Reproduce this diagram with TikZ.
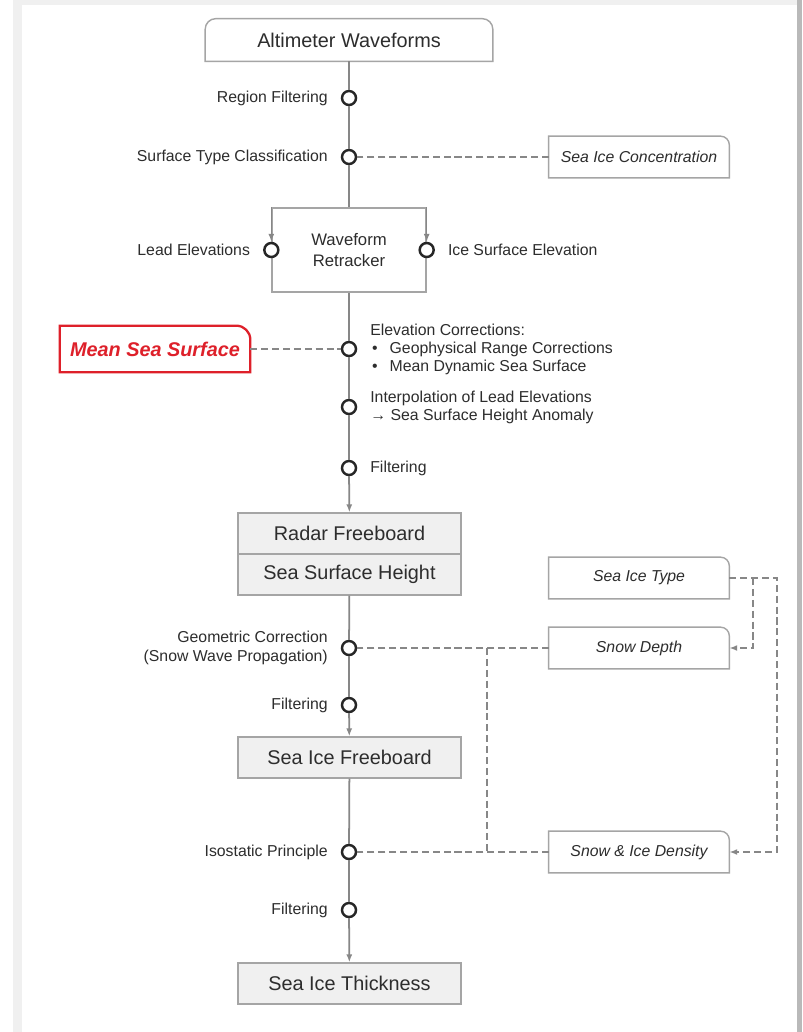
\documentclass[tikz,border=0pt]{standalone}
\usepackage{fontspec}
\setmainfont{Liberation Sans}
\usetikzlibrary{positioning,arrows.meta}

\definecolor{msfred}{RGB}{222,32,42}
\definecolor{txtgray}{RGB}{45,45,45}
\definecolor{linegray}{RGB}{135,135,135}
\definecolor{boxgray}{RGB}{165,165,165}
\definecolor{fillgray}{RGB}{240,240,240}

% outline with the top right corner rounded
\newcommand{\tabshape}[3][]{%
  \draw[#1] (#2.south west) -- (#2.north west) -- ([xshift=-#3]#2.north east)
    arc[start angle=90, end angle=0, radius=#3] -- (#2.south east) -- cycle;}
% outline with both top corners rounded
\newcommand{\roundtop}[3][]{%
  \draw[#1] (#2.south west) -- ([yshift=-#3]#2.north west)
    arc[start angle=180, end angle=90, radius=#3] -- ([xshift=-#3]#2.north east)
    arc[start angle=90, end angle=0, radius=#3] -- (#2.south east) -- cycle;}

\begin{document}
\begin{tikzpicture}[x=0.02cm, y=0.02cm,
    font=\fontsize{9}{10.2}\selectfont, text=txtgray,
    stepnode/.style={circle, draw=black!85, line width=1.4pt, fill=white,
      minimum size=0.28cm, inner sep=0pt},
    lbl/.style={inner sep=1pt},
    flow/.style={linegray, line width=1pt},
    feedline/.style={linegray, line width=1.15pt, dash pattern=on 4pt off 2.2pt},
    arrowflow/.style={-{Latex[length=4.5pt, width=3.4pt]}},
    stagebox/.style={draw=boxgray, line width=0.8pt, fill=fillgray,
      minimum width=4.46cm, minimum height=0.82cm,
      font=\fontsize{11.3}{13}\selectfont},
    inputbox/.style={minimum width=3.6cm, minimum height=0.82cm,
      font=\fontsize{9}{11}\selectfont\itshape},
    boxline/.style={draw=boxgray, line width=0.8pt}]

    % Page and its shadow
    \useasboundingbox (0,0) rectangle (802,-1032);
    \fill[white] (0,0) rectangle (802,-1032);
    \fill[gray!12] (13,0) rectangle (22,-1032);
    \fill[gray!12] (13,0) rectangle (802,-5);
    \fill[gray!55] (797,0) rectangle (802,-1032);

    % Input
    \node[minimum width=5.74cm, minimum height=0.84cm,
      font=\fontsize{11.3}{13}\selectfont] (alt) at (349,-40) {Altimeter Waveforms};
    \roundtop[boxline]{alt}{6pt}

    % Steps down to the retracker
    \node[stepnode] (regf) at (349,-98) {};
    \node[lbl, left=0.22cm of regf] (regflbl) {Region Filtering};
    \node[stepnode] (stc) at (349,-157) {};
    \node[lbl, left=0.22cm of stc] (stclbl) {Surface Type Classification};
    \node[inputbox] (conc) at (639,-157) {Sea Ice Concentration};
    \tabshape[boxline]{conc}{5pt}

    % Waveform retracker
    \node[boxline, fill=white, minimum width=3.08cm, minimum height=1.68cm,
      align=center, font=\fontsize{9.5}{12}\selectfont] (ret) at (349,-250)
      {Waveform\\Retracker};
    \node[stepnode] (lead) at (ret.west) {};
    \node[lbl, left=0.22cm of lead] (leadlbl) {Lead Elevations};
    \node[stepnode] (ice) at (ret.east) {};
    \node[lbl, right=0.22cm of ice] (icelbl) {Ice Surface Elevation};
    \draw[linegray, line width=0.8pt, arrowflow] (ret.north west) -- (lead);
    \draw[linegray, line width=0.8pt, arrowflow] (ret.north east) -- (ice);

    % Corrections
    \node[stepnode] (elev) at (349,-349) {};
    \node[lbl, right=0.22cm of elev, align=left] (elevlbl) {Elevation Corrections:\\
      \hspace{1pt}\makebox[10pt][l]{\textbullet}Geophysical Range Corrections\\
      \hspace{1pt}\makebox[10pt][l]{\textbullet}Mean Dynamic Sea Surface};
    \node[inputbox, minimum width=3.8cm, minimum height=0.92cm, text=msfred,
      font=\fontsize{11.3}{13}\selectfont\bfseries\itshape] (msf) at (155,-349)
      {Mean Sea Surface};
    \tabshape[msfred, line width=1.3pt]{msf}{8pt}
    \node[stepnode] (interp) at (349,-407) {};
    \node[lbl, right=0.22cm of interp, align=left] (interplbl)
      {Interpolation of Lead Elevations\\→ Sea Surface Height Anomaly};
    \node[stepnode] (filta) at (349,-468) {};
    \node[lbl, right=0.22cm of filta] (filtalbl) {Filtering};

    % Radar freeboard
    \node[stagebox] (rfb) at (349.5,-533.5) {Radar Freeboard};
    \node[stagebox] (ssh) at (349.5,-574.5) {Sea Surface Height};

    % Auxiliary data
    \node[inputbox] (typ) at (639,-578) {Sea Ice Type};
    \tabshape[boxline]{typ}{5pt}
    \node[inputbox] (snowd) at (639,-648) {Snow Depth};
    \tabshape[boxline]{snowd}{5pt}
    \node[inputbox] (dens) at (639,-852) {Snow \& Ice Density};
    \tabshape[boxline]{dens}{5pt}

    % Freeboard and thickness
    \node[stepnode] (geo) at (349,-648) {};
    \node[lbl, left=0.22cm of geo, align=right,
      font=\fontsize{9}{10.8}\selectfont] (geolbl)
      {Geometric Correction\\(Snow Wave Propagation)};
    \node[stepnode] (filtb) at (349,-705) {};
    \node[lbl, left=0.22cm of filtb] (filtblbl) {Filtering};
    \node[stagebox] (sif) at (349.5,-757.5) {Sea Ice Freeboard};
    \node[stepnode] (iso) at (349,-852) {};
    \node[lbl, left=0.22cm of iso] (isolbl) {Isostatic Principle};
    \node[stepnode] (filtc) at (349,-910) {};
    \node[lbl, left=0.22cm of filtc] (filtclbl) {Filtering};
    \node[stagebox] (thk) at (349.5,-983.5) {Sea Ice Thickness};

    % Main flow
    \draw[flow] (alt) -- (regf);
    \draw[flow] (regf) -- (stc);
    \draw[flow] (stc) -- (ret);
    \draw[flow] (ret) -- (elev);
    \draw[flow] (elev) -- (interp);
    \draw[flow] (interp) -- (filta);
    \draw[flow, arrowflow] (filta) -- (rfb);
    \draw[flow] (ssh) -- (geo);
    \draw[flow] (geo) -- (filtb);
    \draw[flow, arrowflow] (filtb) -- (sif);
    \draw[flow] (sif) -- (iso);
    \draw[flow] (iso) -- (filtc);
    \draw[flow, arrowflow] (filtc) -- (thk);

    % Auxiliary links
    \draw[feedline] (conc) -- (stc);
    \draw[feedline] (msf) -- (elev);
    \draw[feedline] (snowd) -- (geo);
    \draw[feedline] (dens) -- (iso);
    \coordinate (split) at (487,-648);
    \draw[feedline] (split) -- (split |- iso);
    \coordinate (typsplit) at (753,-578);
    \coordinate (typout) at (777,-578);
    \draw[feedline, arrowflow] (typ.east) -- (typout) |- (dens.east);
    \draw[feedline, arrowflow] (typsplit) |- (snowd.east);
\end{tikzpicture}
\end{document}
